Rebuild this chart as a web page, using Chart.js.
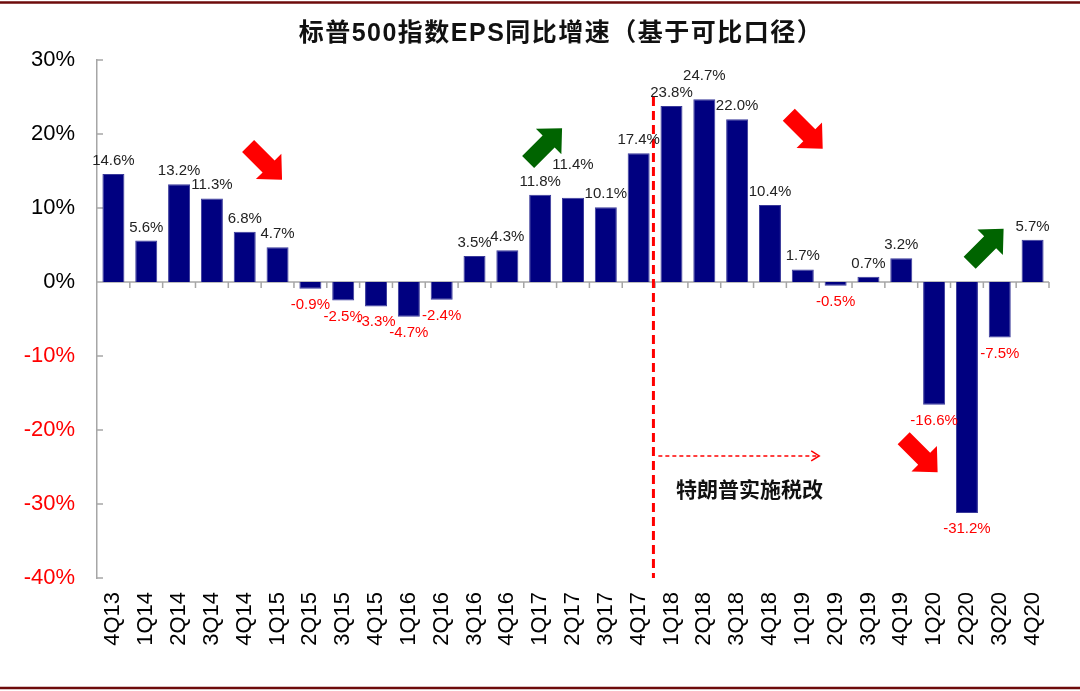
<!DOCTYPE html>
<html>
<head>
<meta charset="utf-8">
<script src="https://cdn.jsdelivr.net/npm/chart.js@4/dist/chart.umd.min.js"></script>
<style>
  html, body { margin: 0; padding: 0; background: #fff; }
  #wrap { width: 1080px; height: 691px; }
</style>
</head>
<body>
<div id="wrap"><canvas id="c" width="1080" height="691"></canvas></div>
<script>
// ---- data ----
const chartTitle = '标普500指数EPS同比增速（基于可比口径）';
const categories = ['4Q13','1Q14','2Q14','3Q14','4Q14','1Q15','2Q15','3Q15','4Q15','1Q16','2Q16','3Q16','4Q16',
  '1Q17','2Q17','3Q17','4Q17','1Q18','2Q18','3Q18','4Q18','1Q19','2Q19','3Q19','4Q19','1Q20','2Q20','3Q20','4Q20'];
const epsGrowth = [14.6, 5.6, 13.2, 11.3, 6.8, 4.7, -0.9, -2.5, -3.3, -4.7, -2.4, 3.5, 4.3,
  11.8, 11.4, 10.1, 17.4, 23.8, 24.7, 22.0, 10.4, 1.7, -0.5, 0.7, 3.2, -16.6, -31.2, -7.5, 5.7];
const yMin = -40, yMax = 30, yStep = 10;
const taxReformText = '特朗普实施税改';
const taxReformStart = 16.45;      // category position of the reform line
// annotation arrows in data units (category index, value)
const trendArrows = [
  { x: 4.62,  y: 16.1,  dir: 'down', color: '#ff0000' },
  { x: 13.15, y: 18.5,  dir: 'up',   color: '#006400' },
  { x: 21.09, y: 20.3,  dir: 'down', color: '#ff0000' },
  { x: 26.6,  y: 4.9,   dir: 'up',   color: '#006400' },
  { x: 24.59, y: -23.4, dir: 'down', color: '#ff0000' }
];

const LAT = '"Liberation Sans", Arial, "Noto Sans CJK SC", sans-serif';

const decor = {
  id: 'decor',
  beforeDraw(chart) {
    const { ctx, width, height } = chart;
    ctx.save();
    ctx.fillStyle = '#ffffff';
    ctx.fillRect(0, 0, width, height);
    ctx.restore();
  },
  beforeDatasetsDraw(chart) {
    const { ctx, chartArea: a, scales: { x, y } } = chart;
    ctx.save();
    const y0 = y.getPixelForValue(0);
    ctx.strokeStyle = '#a6a6a6';
    ctx.lineWidth = 1.5;
    ctx.beginPath();
    ctx.moveTo(a.left, y0); ctx.lineTo(a.right, y0);
    for (let i = 0; i < categories.length; i++) {
      const bx = x.getPixelForValue(i + 0.5);
      ctx.moveTo(bx, y0); ctx.lineTo(bx, y0 + 6);
    }
    for (let v = yMin; v <= yMax; v += yStep) {
      const ty = y.getPixelForValue(v);
      ctx.moveTo(a.left, ty); ctx.lineTo(a.left + 6, ty);
    }
    ctx.stroke();
    ctx.restore();
  },
  afterDatasetsDraw(chart) {
    const { ctx, width, height, scales: { x, y } } = chart;
    ctx.save();
    // frame lines
    ctx.strokeStyle = '#6e0b0b';
    ctx.lineWidth = 2.5;
    ctx.beginPath();
    ctx.moveTo(0, 2.5); ctx.lineTo(width, 2.5);
    ctx.moveTo(0, height - 3); ctx.lineTo(width, height - 3);
    ctx.stroke();

    // title
    ctx.fillStyle = '#111';
    ctx.font = 'bold 25px ' + LAT;
    ctx.textAlign = 'center';
    ctx.textBaseline = 'middle';
    if ('letterSpacing' in ctx) ctx.letterSpacing = '1.5px';
    ctx.fillText(chartTitle, 561, 34);
    if ('letterSpacing' in ctx) ctx.letterSpacing = '0px';

    // reform vertical dashed line
    const lx = x.getPixelForValue(taxReformStart);
    ctx.strokeStyle = '#ff0000';
    ctx.lineWidth = 3;
    ctx.setLineDash([9, 5]);
    ctx.beginPath();
    ctx.moveTo(lx, y.getPixelForValue(25));
    ctx.lineTo(lx, y.getPixelForValue(yMin));
    ctx.stroke();

    // dashed horizontal arrow
    const ay = y.getPixelForValue(-23.5);
    const ax0 = x.getPixelForValue(16.6), ax1 = x.getPixelForValue(21.5);
    ctx.lineWidth = 1.5;
    ctx.setLineDash([4, 3]);
    ctx.beginPath();
    ctx.moveTo(ax0, ay); ctx.lineTo(ax1, ay);
    ctx.stroke();
    ctx.setLineDash([]);
    ctx.beginPath();
    ctx.moveTo(ax1 - 8, ay - 5); ctx.lineTo(ax1, ay); ctx.lineTo(ax1 - 8, ay + 5);
    ctx.stroke();

    // annotation text
    ctx.fillStyle = '#111';
    ctx.font = 'bold 21px "Noto Sans CJK SC", sans-serif';
    ctx.textAlign = 'center';
    ctx.textBaseline = 'middle';
    ctx.fillText(taxReformText, x.getPixelForValue(19.38), y.getPixelForValue(-28));

    // block arrows
    trendArrows.forEach(ar => {
      const cx = x.getPixelForValue(ar.x), cy = y.getPixelForValue(ar.y);
      const L = 48, sw = 17, hl = 19, hw = 36;
      ctx.save();
      ctx.translate(cx, cy);
      ctx.rotate(ar.dir === 'down' ? Math.PI / 4 : -Math.PI / 4);
      ctx.fillStyle = ar.color;
      ctx.beginPath();
      ctx.moveTo(-L / 2, -sw / 2);
      ctx.lineTo(L / 2 - hl, -sw / 2);
      ctx.lineTo(L / 2 - hl, -hw / 2);
      ctx.lineTo(L / 2, 0);
      ctx.lineTo(L / 2 - hl, hw / 2);
      ctx.lineTo(L / 2 - hl, sw / 2);
      ctx.lineTo(-L / 2, sw / 2);
      ctx.closePath();
      ctx.fill();
      ctx.restore();
    });

    // value labels with simple collision avoidance
    const meta = chart.getDatasetMeta(0);
    ctx.font = '15px ' + LAT;
    ctx.textAlign = 'center';
    ctx.textBaseline = 'alphabetic';
    const placed = [];
    const tol = 7, th = 11;
    meta.data.forEach((bar, i) => {
      const v = epsGrowth[i];
      const txt = v.toFixed(1) + '%';
      const w = ctx.measureText(txt).width;
      let base = v >= 0 ? bar.y - 9 : bar.y + 9 + th;
      const left = bar.x - w / 2, right = bar.x + w / 2;
      let moved = true, guard = 0;
      while (moved && guard < 10) {
        moved = false; guard++;
        for (const p of placed) {
          const xo = Math.min(right, p.r) - Math.max(left, p.l);
          const yo = Math.min(base, p.b) - Math.max(base - th, p.b - th);
          if (xo > tol && yo > 0) {
            base = v >= 0 ? p.b - th - 6 : p.b + th + 6;
            moved = true;
          }
        }
      }
      placed.push({ l: left, r: right, b: base });
      ctx.fillStyle = v >= 0 ? '#222222' : '#ff0000';
      ctx.fillText(txt, bar.x, base);
    });
    ctx.restore();
  }
};

new Chart(document.getElementById('c'), {
  type: 'bar',
  data: {
    labels: categories,
    datasets: [{
      data: epsGrowth,
      backgroundColor: '#000080',
      borderColor: '#3a3a9a',
      borderWidth: 1,
      barPercentage: 0.67,
      categoryPercentage: 1.0
    }]
  },
  options: {
    responsive: false,
    animation: false,
    layout: { padding: { top: 60, right: 31, bottom: 0, left: 0 } },
    plugins: { legend: { display: false }, title: { display: false }, tooltip: { enabled: false } },
    scales: {
      x: {
        grid: { display: false, drawTicks: false },
        border: { display: false },
        ticks: {
          autoSkip: false, minRotation: 90, maxRotation: 90, padding: 14,
          color: '#000', font: { family: LAT, size: 22 }
        },
        afterFit(s) { s.height = 113; }
      },
      y: {
        min: yMin, max: yMax,
        grid: { display: false, drawTicks: false },
        border: { display: true, color: '#a6a6a6', width: 1.5 },
        ticks: {
          stepSize: yStep, padding: 22,
          font: { family: LAT, size: 22 },
          color: c => (c.tick && c.tick.value < 0 ? '#ff0000' : '#000000'),
          callback: v => v + '%'
        },
        afterFit(s) { s.width = 97; }
      }
    }
  },
  plugins: [decor]
});
</script>
</body>
</html>
